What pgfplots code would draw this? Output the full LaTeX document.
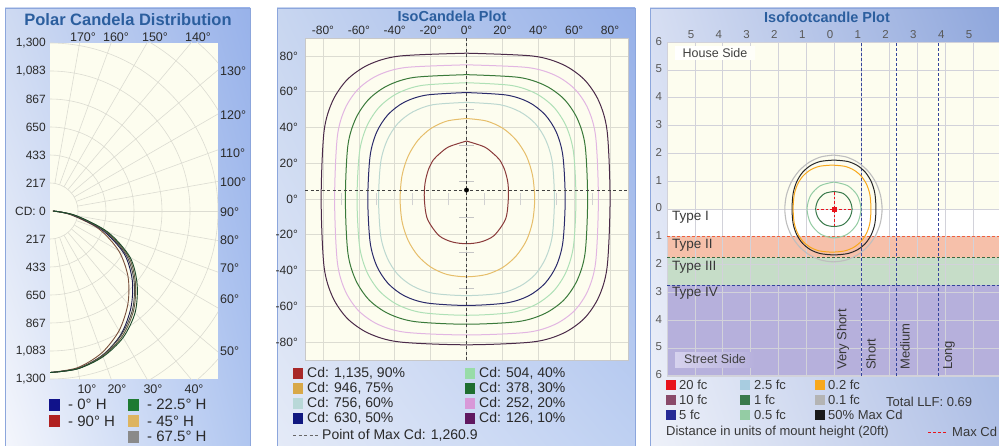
\documentclass[border=0pt]{standalone}
\usepackage{fontspec}
\setmainfont{Liberation Sans}
\usepackage{pgfplots}
\pgfplotsset{compat=1.18}
\usetikzlibrary{shadings}
\definecolor{ttl}{HTML}{2B5E9E}
\definecolor{pborder}{HTML}{8CA6DC}
\definecolor{cream}{HTML}{FDFDEF}
\definecolor{gridc}{HTML}{DCDCD2}
\definecolor{gridb}{HTML}{D2D2DA}
\definecolor{labc}{HTML}{2A2A2A}
% polar
\definecolor{pNavy}{HTML}{10128A}\definecolor{pRed}{HTML}{B02020}\definecolor{pGreen}{HTML}{1E7A32}
\definecolor{pTan}{HTML}{DDB460}\definecolor{pGray}{HTML}{8A8A8A}
% isocandela
\definecolor{c90}{HTML}{A82828}\definecolor{c75}{HTML}{D8A848}\definecolor{c60}{HTML}{B8D8D8}
\definecolor{c50}{HTML}{101880}\definecolor{c40}{HTML}{98DCA8}\definecolor{c30}{HTML}{1E6E30}
\definecolor{c20}{HTML}{D898D8}\definecolor{c10}{HTML}{601860}
\definecolor{l90}{HTML}{8A3A3A}\definecolor{l75}{HTML}{E6BE6A}\definecolor{l60}{HTML}{BCD8D0}
\definecolor{l50}{HTML}{2A2A6A}\definecolor{l40}{HTML}{AEE0B6}\definecolor{l30}{HTML}{3A7A3A}
\definecolor{l20}{HTML}{E2B6E2}\definecolor{l10}{HTML}{4A2A48}
% isofootcandle
\definecolor{f20}{HTML}{E8141C}\definecolor{f10}{HTML}{8A4A6A}\definecolor{f5}{HTML}{262A96}
\definecolor{f25}{HTML}{A8CCE0}\definecolor{f1}{HTML}{3A7A4C}\definecolor{f05}{HTML}{94CCA4}
\definecolor{f02}{HTML}{F8A81C}\definecolor{f01}{HTML}{B4B4B4}\definecolor{fmax}{HTML}{1A1A1A}
\definecolor{bandII}{HTML}{F6C0AA}\definecolor{bandIII}{HTML}{C6DDC8}\definecolor{bandIV}{HTML}{B6B0DC}
\definecolor{dnavy}{HTML}{34449C}
\newcommand{\fs}[1]{\fontsize{#1}{#1}\selectfont}
\begin{document}
\begin{tikzpicture}[x=1pt,y=1pt]
\useasboundingbox (0,0) rectangle (999,445);
\fill[white] (0,0) rectangle (999,445);
% ---------- panel backgrounds
\shade[upper left={rgb,255:red,206;green,218;blue,242}, upper right={rgb,255:red,152;green,178;blue,234},
       lower left={rgb,255:red,244;green,246;blue,252}, lower right={rgb,255:red,176;green,198;blue,240}] (5,0) rectangle (250,437);
\draw[pborder] (5,-1) -- (5,437) -- (250,437) -- (250,-1);
\shade[upper left={rgb,255:red,200;green,214;blue,240}, upper right={rgb,255:red,150;green,176;blue,232},
       lower left={rgb,255:red,228;green,234;blue,247}, lower right={rgb,255:red,190;green,208;blue,242}] (277,0) rectangle (635,437);
\draw[pborder] (277,-1) -- (277,437) -- (635,437) -- (635,-1);
\shade[upper left={rgb,255:red,214;green,222;blue,242}, upper right={rgb,255:red,142;green,166;blue,220},
       lower left={rgb,255:red,238;green,241;blue,249}, lower right={rgb,255:red,176;green,192;blue,230}] (650,0) rectangle (1002,437);
\draw[pborder] (650,-1) -- (650,437) -- (1002,437);
% ---------- plot backgrounds
\fill[cream] (50,66) rectangle (218,402);
\fill[cream] (305,85) rectangle (628,407);
\fill[cream] (667.2,69.2) rectangle (1000.8,402.8);
\fill[white] (667.2,208.2) rectangle (1000.8,236);
\fill[bandII] (667.2,187.35) rectangle (1000.8,208.2);
\fill[bandIII] (667.2,159.55) rectangle (1000.8,187.35);
\fill[bandIV] (667.2,69.2) rectangle (1000.8,159.55);
% ---------- polar grid
\begin{scope}
\clip (50,66) rectangle (218,402);
\foreach \r in {28,56,84,112,140,168,196,224,252} \draw[gridc, line width=0.6pt] (50,234) circle[radius=\r];
\foreach \a in {-80,-70,...,80} \draw[gridc, line width=0.6pt] (50,234) ++(\a:28) -- ++(\a:320);
\end{scope}
% ---------- Panel 1 axis
\begin{axis}[at={(50pt,66pt)}, anchor=south west, scale only axis, width=168pt, height=336pt,
  xmin=0, xmax=1300, ymin=-1300, ymax=1300, axis line style={draw=none},
  xtick=\empty, ytick={-1300,-1083,-867,-650,-433,-217,0,217,433,650,867,1083,1300},
  yticklabels={{1,300},{1,083},867,650,433,217,{CD: 0},217,433,650,867,{1,083},{1,300}},
  major tick length=0pt, yticklabel style={font=\fs{12}, text=labc, inner sep=1pt, xshift=-3pt}]
\addplot[data cs=polar, smooth, line width=0.9pt, color={rgb,255:red,122;green,80;blue,60}] coordinates {(-90,1250) (-80,1231) (-70,1169) (-60,1069) (-50,938) (-40,788) (-30,613) (-20,400) (-10,160) (0,20)};
\addplot[data cs=polar, smooth, line width=0.9pt, color={rgb,255:red,26;green,26;blue,80}] coordinates {(-90,1250) (-80,1238) (-70,1188) (-60,1100) (-50,975) (-40,831) (-30,663) (-20,430) (-10,175) (0,25)};
\addplot[data cs=polar, smooth, line width=0.9pt, color={rgb,255:red,74;green,74;blue,74}] coordinates {(-90,1250) (-80,1238) (-70,1188) (-60,1106) (-50,994) (-40,850) (-30,681) (-20,445) (-10,185) (0,25)};
\addplot[data cs=polar, smooth, line width=0.9pt, color={rgb,255:red,100;green,92;blue,64}] coordinates {(-90,1250) (-80,1238) (-70,1194) (-60,1119) (-50,1006) (-40,863) (-30,700) (-20,460) (-10,195) (0,25)};
\addplot[data cs=polar, smooth, line width=0.9pt, color={rgb,255:red,26;green,74;blue,42}] coordinates {(-90,1250) (-80,1240) (-70,1200) (-60,1131) (-50,1025) (-40,880) (-30,715) (-20,475) (-10,205) (0,25)};
\end{axis}
% ---------- Panel 2 axis
\begin{axis}[at={(305pt,85pt)}, anchor=south west, scale only axis, width=323pt, height=322pt,
  xmin=-90, xmax=90, ymin=-90, ymax=90,
  xtick={-80,-60,...,80}, ytick={-80,-60,...,80},
  xticklabels={-80°,-60°,-40°,-20°,0°,20°,40°,60°,80°},
  yticklabels={-80°,-60°,-40°,-20°,0°,20°,40°,60°,80°},
  xticklabel pos=upper, grid=major, major grid style={draw=gridc, line width=0.6pt},
  major tick length=0pt, axis line style={draw={rgb,255:red,200;green,200;blue,200}},
  xticklabel style={font=\fs{12}, text=labc, inner sep=1pt, yshift=2pt},
  yticklabel style={font=\fs{12}, text=labc, inner sep=1pt, xshift=-6pt}]
\foreach \yy in {-50,-30,-10,10,30,50} {\edef\tmp{\noexpand\draw[gray!45, line width=0.6pt] (axis cs:-4,\yy) -- (axis cs:4,\yy);}\tmp}
\foreach \xx in {-70,-50,-30,-10,10,30,50,70} {\edef\tmp{\noexpand\draw[gray!35, line width=0.6pt] (axis cs:\xx,-3.5) -- (axis cs:\xx,3.5);}\tmp}
\addplot[l10, line width=1pt, smooth] coordinates {(0,81.5) (37.0,79.9) (53.8,75.1) (65.6,66.8) (73.7,54.8) (78.4,37.7) (80,0) (78.4,-37.7) (73.7,-54.8) (65.6,-66.8) (53.8,-75.1) (37.0,-79.9) (0,-81.5) (-37.4,-79.9) (-54.5,-75.1) (-66.4,-66.8) (-74.6,-54.8) (-79.4,-37.7) (-81,0) (-79.4,37.7) (-74.6,54.8) (-66.4,66.8) (-54.5,75.1) (-37.4,79.9) (0,81.5)};
\addplot[l20, line width=1pt, smooth] coordinates {(0,75) (34.0,73.5) (49.5,69.1) (60.3,61.5) (67.7,50.5) (72.0,34.7) (73.5,0) (72.0,-35.1) (67.7,-51.1) (60.3,-62.3) (49.5,-70.0) (34.0,-74.5) (0,-76) (-34.0,-74.5) (-49.5,-70.0) (-60.3,-62.3) (-67.7,-51.1) (-72.0,-35.1) (-73.5,0) (-72.0,34.7) (-67.7,50.5) (-60.3,61.5) (-49.5,69.1) (-34.0,73.5) (0,75)};
\addplot[l30, line width=1pt, smooth] coordinates {(0,69.5) (29.0,68.0) (43.7,63.5) (54.3,55.9) (61.7,45.0) (66.1,29.9) (67.5,0) (66.1,-30.1) (61.7,-45.4) (54.3,-56.4) (43.7,-64.0) (29.0,-68.5) (0,-70) (-29.0,-68.5) (-43.7,-64.0) (-54.3,-56.4) (-61.7,-45.4) (-66.1,-30.1) (-67.5,0) (-66.1,29.9) (-61.7,45.0) (-54.3,55.9) (-43.7,63.5) (-29.0,68.0) (0,69.5)};
\addplot[l40, line width=1pt, smooth] coordinates {(0,65) (24.8,63.5) (38.4,59.1) (48.4,51.6) (55.4,41.0) (59.6,26.4) (61,0) (59.6,-26.4) (55.4,-41.0) (48.4,-51.6) (38.4,-59.1) (24.8,-63.5) (0,-65) (-24.8,-63.5) (-38.4,-59.1) (-48.4,-51.6) (-55.4,-41.0) (-59.6,-26.4) (-61,0) (-59.6,26.4) (-55.4,41.0) (-48.4,51.6) (-38.4,59.1) (-24.8,63.5) (0,65)};
\addplot[l50, line width=1pt, smooth] coordinates {(0,59.5) (22.3,58.1) (34.7,54.1) (43.7,47.2) (50.0,37.5) (53.7,24.2) (55,0) (53.7,-24.2) (50.0,-37.5) (43.7,-47.2) (34.7,-54.1) (22.3,-58.1) (0,-59.5) (-22.3,-58.1) (-34.7,-54.1) (-43.7,-47.2) (-50.0,-37.5) (-53.7,-24.2) (-55,0) (-53.7,24.2) (-50.0,37.5) (-43.7,47.2) (-34.7,54.1) (-22.3,58.1) (0,59.5)};
\addplot[l60, line width=1pt, smooth] coordinates {(0,54) (18.7,52.7) (29.9,48.7) (38.3,42.2) (44.2,32.9) (47.8,20.6) (49,0) (47.8,-20.6) (44.2,-32.9) (38.3,-42.2) (29.9,-48.7) (18.7,-52.7) (0,-54) (-18.7,-52.7) (-29.9,-48.7) (-38.3,-42.2) (-44.2,-32.9) (-47.8,-20.6) (-49,0) (-47.8,20.6) (-44.2,32.9) (-38.3,42.2) (-29.9,48.7) (-18.7,52.7) (0,54)};
\addplot[l75, line width=1pt, smooth] coordinates {(0,45) (11.1,43.6) (20.3,39.5) (27.7,32.9) (33.4,24.0) (36.8,13.2) (38,0) (36.8,-12.7) (33.4,-23.2) (27.7,-31.8) (20.3,-38.2) (11.1,-42.2) (0,-43.5) (-10.8,-42.2) (-19.7,-38.2) (-27.0,-31.8) (-32.5,-23.2) (-35.9,-12.7) (-37,0) (-35.9,13.2) (-32.5,24.0) (-27.0,32.9) (-19.7,39.5) (-10.8,43.6) (0,45)};
\addplot[l90, line width=1pt, smooth] coordinates {(0,32.4) (9.8,29.2) (14.8,25.5) (18.5,21.8) (21.3,16.2) (23.1,8.8) (23.3,0) (21.8,-11.1) (15.4,-20.4) (8,-24) (0,-25) (-8,-24) (-15.4,-20.4) (-21.8,-11.1) (-23.5,0) (-23.1,8.8) (-21.3,16.2) (-18.5,21.8) (-14.8,25.5) (-9.8,29.2) (0,32.4)};
\addplot[black!75, line width=0.7pt, dash pattern=on 3pt off 2.5pt] coordinates {(0,-90) (0,90)};
\addplot[black!75, line width=0.7pt, dash pattern=on 3pt off 2.5pt] coordinates {(-90,5) (90,5)};
\addplot[only marks, mark=*, mark size=2.2pt, black] coordinates {(0,5)};
\end{axis}
% ---------- Panel 3 axis
\begin{axis}[at={(667.2pt,69.2pt)}, anchor=south west, scale only axis, width=333.6pt, height=333.6pt,
  xmin=-6, xmax=6, ymin=-6, ymax=6,
  xtick={-5,...,5}, xticklabels={5,4,3,2,1,0,1,2,3,4,5},
  ytick={-6,...,6}, yticklabels={6,5,4,3,2,1,0,1,2,3,4,5,6},
  xticklabel pos=upper, grid=major, major grid style={draw=gridb, line width=0.7pt},
  major tick length=0pt, axis line style={draw=gridb},
  xticklabel style={font=\fs{11.5}, text=black!65, inner sep=1pt, yshift=2pt, xshift=-4pt},
  yticklabel style={font=\fs{11.5}, text=black!65, inner sep=1pt, xshift=-4pt, yshift=1pt}]
\addplot[color={rgb,255:red,240;green,96;blue,58}, line width=0.9pt, dash pattern=on 3pt off 2pt] coordinates {(-6,-1) (6,-1)};
\addplot[color={rgb,255:red,58;green,106;blue,64}, line width=0.9pt, dash pattern=on 3pt off 2pt] coordinates {(-6,-1.75) (6,-1.75)};
\addplot[dnavy, line width=0.9pt, dash pattern=on 3pt off 2pt] coordinates {(-6,-2.75) (6,-2.75)};
\addplot[dnavy, line width=0.9pt, dash pattern=on 3pt off 2pt] coordinates {(1,-6) (1,6)};
\addplot[dnavy, line width=0.9pt, dash pattern=on 3pt off 2pt] coordinates {(2.25,-6) (2.25,6)};
\addplot[dnavy, line width=0.9pt, dash pattern=on 3pt off 2pt] coordinates {(3.75,-6) (3.75,6)};
\addplot[color={rgb,255:red,190;green,190;blue,190}, line width=1.1pt, smooth] coordinates {(-0.02,1.94) (0.433,1.874) (0.855,1.680) (1.217,1.372) (1.496,0.970) (1.670,0.502) (1.73,0) (1.670,-0.492) (1.496,-0.950) (1.217,-1.343) (0.855,-1.645) (0.433,-1.835) (-0.02,-1.9) (-0.473,-1.835) (-0.895,-1.645) (-1.257,-1.343) (-1.536,-0.950) (-1.710,-0.492) (-1.77,0) (-1.710,0.502) (-1.536,0.970) (-1.257,1.372) (-0.895,1.680) (-0.473,1.874) (-0.02,1.94)};
\addplot[color={rgb,255:red,40;green,40;blue,40}, line width=1pt, smooth] coordinates {(0,1.76) (0.489,1.711) (0.847,1.561) (1.131,1.318) (1.339,0.987) (1.468,0.570) (1.51,0) (1.468,-0.535) (1.339,-0.926) (1.131,-1.236) (0.847,-1.464) (0.489,-1.604) (0,-1.65) (-0.489,-1.604) (-0.847,-1.464) (-1.131,-1.236) (-1.339,-0.926) (-1.468,-0.535) (-1.51,0) (-1.468,0.570) (-1.339,0.987) (-1.131,1.318) (-0.847,1.561) (-0.489,1.711) (0,1.76)};
\addplot[f02, line width=1pt, smooth] coordinates {(-0.07,1.58) (0.384,1.536) (0.715,1.401) (0.979,1.183) (1.172,0.886) (1.291,0.512) (1.33,0) (1.291,-0.502) (1.172,-0.870) (0.979,-1.161) (0.715,-1.375) (0.384,-1.507) (-0.07,-1.55) (-0.524,-1.507) (-0.855,-1.375) (-1.119,-1.161) (-1.312,-0.870) (-1.431,-0.502) (-1.47,0) (-1.431,0.512) (-1.312,0.886) (-1.119,1.183) (-0.855,1.401) (-0.524,1.536) (-0.07,1.58)};
\addplot[f05, line width=1pt, smooth] coordinates {(0,0.97) (0.49,0.84) (0.84,0.49) (0.97,0) (0.84,-0.52) (0.49,-0.9) (0,-1.04) (-0.49,-0.9) (-0.84,-0.52) (-0.97,0) (-0.84,0.49) (-0.49,0.84) (0,0.97)};
\addplot[f1, line width=1pt, smooth] coordinates {(0,0.63) (0.33,0.56) (0.56,0.32) (0.65,0) (0.56,-0.32) (0.33,-0.56) (0,-0.63) (-0.33,-0.56) (-0.57,-0.32) (-0.66,0) (-0.57,0.32) (-0.33,0.56) (0,0.63)};
\addplot[f20, line width=0.9pt, dash pattern=on 2.5pt off 2pt] coordinates {(-0.62,0) (0.62,0)};
\addplot[f20, line width=0.9pt, dash pattern=on 2.5pt off 2pt] coordinates {(0,-0.62) (0,0.62)};
\addplot[only marks, mark=square*, mark size=2pt, f20] coordinates {(0,0)};
\end{axis}
% ---------- Panel 1 texts
\node[font=\bfseries\fs{16.5}, text=ttl] at (128,425) {Polar Candela Distribution};
\begin{scope}[every node/.style={font=\fs{12.5}, text=labc, inner sep=0pt}]
\node at (83,408) {170°}; \node at (116,408) {160°}; \node at (155,408) {150°}; \node at (198,408) {140°};
\node[anchor=west] at (220,374) {130°}; \node[anchor=west] at (220,330) {120°};
\node[anchor=west] at (220,292) {110°}; \node[anchor=west] at (220,263) {100°};
\node[anchor=west] at (220,233) {90°}; \node[anchor=west] at (220,205) {80°};
\node[anchor=west] at (220,177) {70°}; \node[anchor=west] at (220,146) {60°};
\node[anchor=west] at (220,94) {50°};
\node at (87,56) {10°}; \node at (117,56) {20°}; \node at (153,56) {30°}; \node at (194,56) {40°};
\end{scope}
\begin{scope}[every node/.style={anchor=west, font=\fs{15}, text=labc, inner sep=0pt}]
\fill[pNavy] (49,34.5) rectangle (60,46.5); \node at (68,40.5) {- 0° H};
\fill[pRed] (49,18) rectangle (60,30); \node at (68,24) {- 90° H};
\fill[pGreen] (128,34.5) rectangle (139,46.5); \node at (147,40.5) {- 22.5° H};
\fill[pTan] (128,18) rectangle (139,30); \node at (147,24) {- 45° H};
\fill[pGray] (128,2) rectangle (139,14); \node at (147,8.5) {- 67.5° H};
\end{scope}
% ---------- Panel 2 texts
\node[font=\bfseries\fs{14.5}, text=ttl] at (452,429) {IsoCandela Plot};
\begin{scope}[every node/.style={anchor=west, font=\fs{14}, text=labc, inner sep=1pt}]
\fill[c90] (293,66.2) rectangle (303,77.2); \node at (306,71.7) {Cd: 1,135, 90\%};
\fill[c75] (293,51.2) rectangle (303,62.2); \node at (306,56.7) {Cd: 946, 75\%};
\fill[c60] (293,36.2) rectangle (303,47.2); \node at (306,41.7) {Cd: 756, 60\%};
\fill[c50] (293,21.2) rectangle (303,32.2); \node at (306,26.7) {Cd: 630, 50\%};
\fill[c40] (465,66.2) rectangle (475,77.2); \node at (478,71.7) {Cd: 504, 40\%};
\fill[c30] (465,51.2) rectangle (475,62.2); \node at (478,56.7) {Cd: 378, 30\%};
\fill[c20] (465,36.2) rectangle (475,47.2); \node at (478,41.7) {Cd: 252, 20\%};
\fill[c10] (465,21.2) rectangle (475,32.2); \node at (478,26.7) {Cd: 126, 10\%};
\draw[black!60, line width=0.7pt, dash pattern=on 3pt off 2.5pt] (293,10) -- (318,10);
\node at (321,10) {Point of Max Cd: 1,260.9};
\end{scope}
% ---------- Panel 3 texts
\node[font=\bfseries\fs{14.5}, text=ttl] at (827,428) {Isofootcandle Plot};
\shade[left color=white, right color=white!60!cream] (675,385) rectangle (755,398);
\node[font=\fs{12.5}, text=black!75] at (715,391.5) {House Side};
\shade[left color={rgb,255:red,214;green,210;blue,238}, right color=bandIV] (675,78) rectangle (755,93);
\node[font=\fs{12.5}, text=black!75] at (715,85.5) {Street Side};
\begin{scope}[every node/.style={anchor=west, font=\fs{13.5}, text=black!78, inner sep=0pt}]
\node at (672,228) {Type I}; \node at (672,200) {Type II};
\node at (672,178) {Type III}; \node at (672,152) {Type IV};
\end{scope}
\begin{scope}[every node/.style={anchor=west, rotate=90, font=\fs{13}, text=black!78, inner sep=0pt}]
\node at (843,75) {Very Short}; \node at (871,75) {Short};
\node at (905,75) {Medium}; \node at (949,75) {Long};
\end{scope}
\begin{scope}[every node/.style={anchor=west, font=\fs{13}, text=black!78, inner sep=1pt}]
\fill[f20] (666,55) rectangle (676,65); \node at (678,60) {20 fc};
\fill[f10] (666,40) rectangle (676,50); \node at (678,45) {10 fc};
\fill[f5] (666,25) rectangle (676,35); \node at (678,30) {5 fc};
\fill[f25] (740,55) rectangle (750,65); \node at (753,60) {2.5 fc};
\fill[f1] (740,40) rectangle (750,50); \node at (753,45) {1 fc};
\fill[f05] (740,25) rectangle (750,35); \node at (753,30) {0.5 fc};
\fill[f02] (815,55) rectangle (825,65); \node at (827,60) {0.2 fc};
\fill[f01] (815,40) rectangle (825,50); \node at (827,45) {0.1 fc};
\fill[fmax] (815,25) rectangle (825,35); \node at (827,30) {50\% Max Cd};
\node at (885,43) {Total LLF: 0.69};
\node at (665,13) {Distance in units of mount height (20ft)};
\draw[f20, line width=0.9pt, dash pattern=on 3pt off 2pt] (928,13) -- (947,13);
\node at (951,13) {Max Cd};
\end{scope}
\end{tikzpicture}
\end{document}
